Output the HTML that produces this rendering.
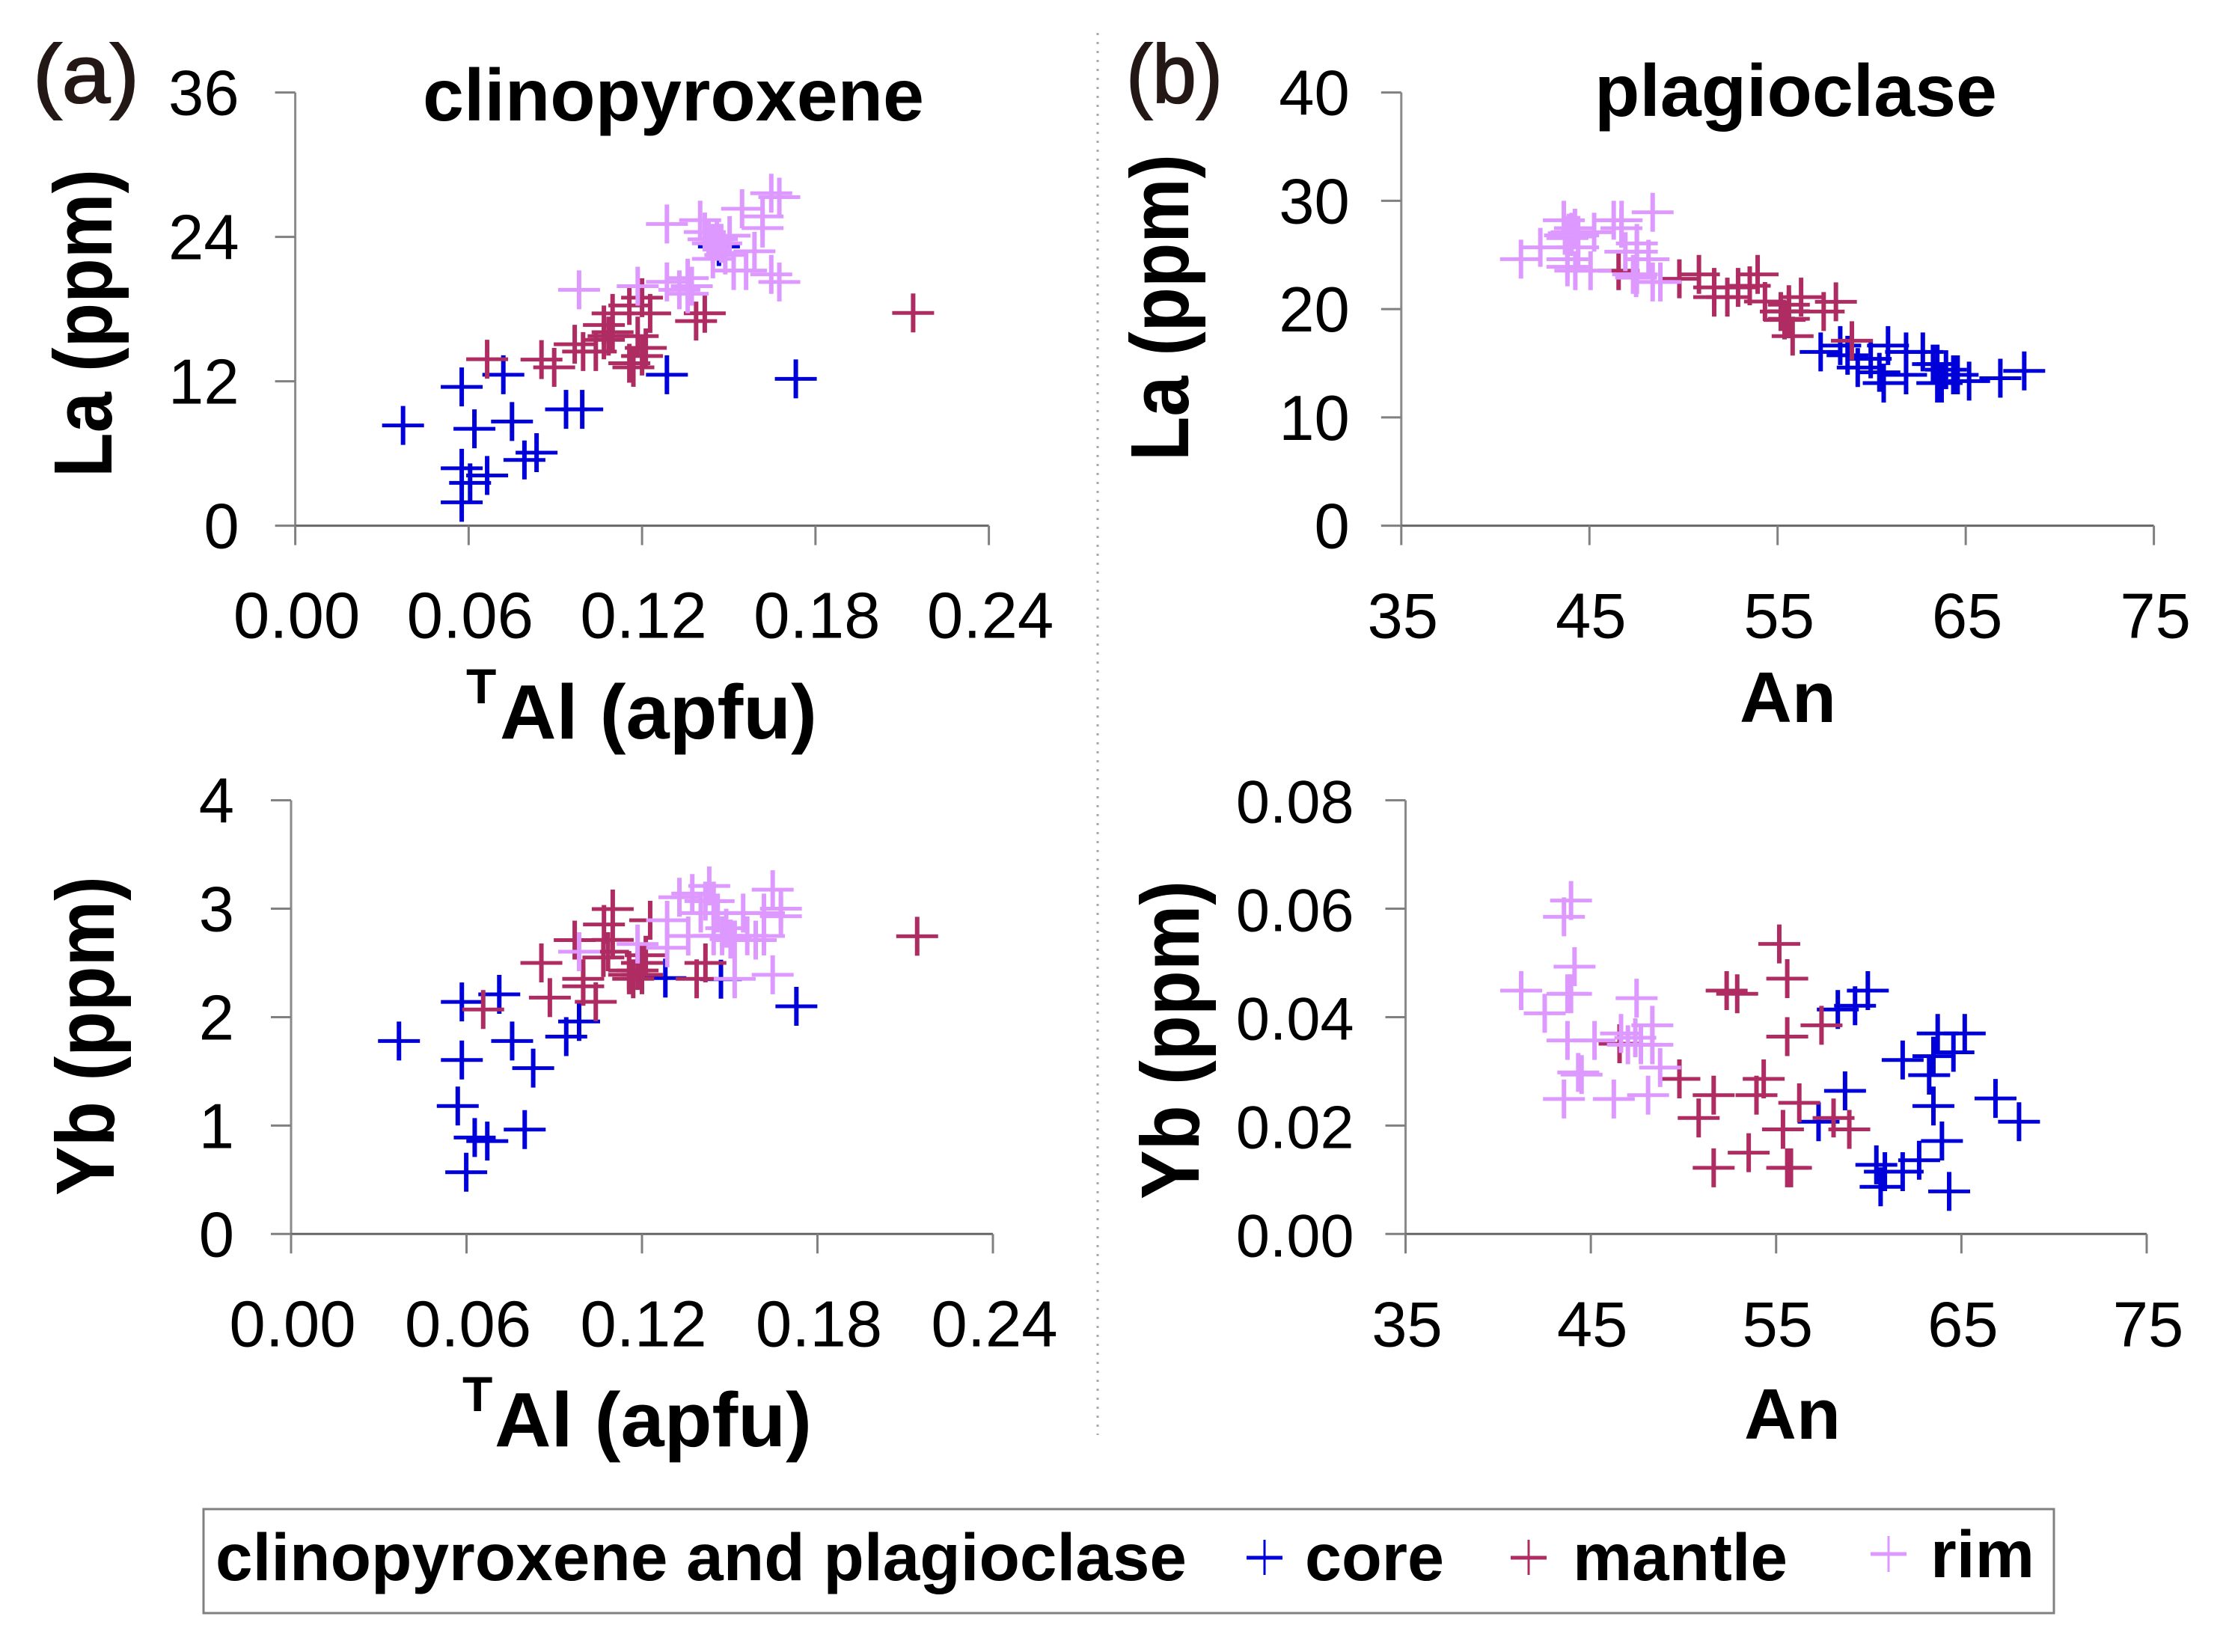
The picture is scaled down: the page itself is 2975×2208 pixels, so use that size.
<!DOCTYPE html>
<html lang="en">
<head>
<meta charset="utf-8">
<title>La and Yb in clinopyroxene and plagioclase</title>
<style>
html,body{margin:0;padding:0;background:#fff;}
svg{display:block;}
text{font-family:"Liberation Sans",sans-serif;fill:#000;}
.b{font-weight:bold;}
</style>
</head>
<body>
<svg id="figure" xmlns="http://www.w3.org/2000/svg" width="2975" height="2208" viewBox="0 0 2975 2208">
  <rect x="0" y="0" width="2975" height="2208" fill="#fff"/>
  <line x1="1467" y1="44" x2="1467" y2="1918" stroke="#a8a8a8" stroke-width="3" stroke-dasharray="3 9"/>

  <text x="44" y="137" font-size="110" textLength="142" lengthAdjust="spacingAndGlyphs" style="fill:#231815;stroke:#231815;stroke-width:2">(a)</text>
  <text x="1505" y="137" font-size="110" textLength="129" lengthAdjust="spacingAndGlyphs" style="fill:#231815;stroke:#231815;stroke-width:2">(b)</text>
  <text class="b" x="565" y="161" font-size="98" textLength="670" lengthAdjust="spacingAndGlyphs">clinopyroxene</text>
  <text class="b" x="2131" y="155" font-size="98" textLength="538" lengthAdjust="spacingAndGlyphs">plagioclase</text>

  <text class="b" transform="translate(149 638) rotate(-90)" font-size="110" textLength="412" lengthAdjust="spacingAndGlyphs">La (ppm)</text>
  <text class="b" transform="translate(1588 616) rotate(-90)" font-size="110" textLength="410" lengthAdjust="spacingAndGlyphs">La (ppm)</text>
  <text class="b" transform="translate(152 1598) rotate(-90)" font-size="110" textLength="427" lengthAdjust="spacingAndGlyphs">Yb (ppm)</text>
  <text class="b" transform="translate(1602 1603) rotate(-90)" font-size="110" textLength="426" lengthAdjust="spacingAndGlyphs">Yb (ppm)</text>

  <text class="b" x="623" y="940" font-size="66">T</text>
  <text class="b" x="668" y="987" font-size="103" textLength="424" lengthAdjust="spacingAndGlyphs">Al (apfu)</text>
  <text class="b" x="618" y="1886" font-size="66">T</text>
  <text class="b" x="661" y="1933" font-size="103" textLength="424" lengthAdjust="spacingAndGlyphs">Al (apfu)</text>
  <text class="b" x="2325" y="965" font-size="96" textLength="129" lengthAdjust="spacingAndGlyphs">An</text>
  <text class="b" x="2331" y="1923" font-size="96" textLength="129" lengthAdjust="spacingAndGlyphs">An</text>

  <g>
    <rect x="272" y="2017" width="2473" height="139" fill="#fff" stroke="#808080" stroke-width="3"/>
    <text class="b" x="288" y="2112" font-size="89" textLength="1298" lengthAdjust="spacingAndGlyphs">clinopyroxene and plagioclase</text>
    <g stroke="#0000d8">
      <line x1="1666" y1="2082" x2="1714" y2="2082" stroke-width="5"/><line x1="1690" y1="2058" x2="1690" y2="2105" stroke-width="3"/>
    </g>
    <text class="b" x="1744" y="2112" font-size="89" textLength="186" lengthAdjust="spacingAndGlyphs">core</text>
    <g stroke="#ae2c62">
      <line x1="2019" y1="2082" x2="2067" y2="2082" stroke-width="5"/><line x1="2043" y1="2058" x2="2043" y2="2105" stroke-width="3"/>
    </g>
    <text class="b" x="2102" y="2112" font-size="89" textLength="287" lengthAdjust="spacingAndGlyphs">mantle</text>
    <g stroke="#dd99ff">
      <line x1="2500" y1="2077" x2="2548" y2="2077" stroke-width="5"/><line x1="2524" y1="2053" x2="2524" y2="2101" stroke-width="3"/>
    </g>
    <text class="b" x="2580" y="2108" font-size="89" textLength="139" lengthAdjust="spacingAndGlyphs">rim</text>
  </g>
</svg>
<script>
// Tick values and labels
const tAlTicks = [0, 0.06, 0.12, 0.18, 0.24];
const tAlTickLabels = ["0.00", "0.06", "0.12", "0.18", "0.24"];
const anTicks = [35, 45, 55, 65, 75];
const anTickLabels = ["35", "45", "55", "65", "75"];
const cpxLaTicks = [0, 12, 24, 36];
const cpxLaTickLabels = ["0", "12", "24", "36"];
const plagLaTicks = [0, 10, 20, 30, 40];
const plagLaTickLabels = ["0", "10", "20", "30", "40"];
const cpxYbTicks = [0, 1, 2, 3, 4];
const cpxYbTickLabels = ["0", "1", "2", "3", "4"];
const plagYbTicks = [0, 0.02, 0.04, 0.06, 0.08];
const plagYbTickLabels = ["0.00", "0.02", "0.04", "0.06", "0.08"];

// Panel A: clinopyroxene La vs TAl
const aCoreX = [.0373,.0576,.072,.062,.075,.0937,.0993,.0835,.0793,.0576,.0664,.0605,.0576,.1286,.1732,.1466];
const aCoreY = [8.33,11.53,12.54,8.05,8.66,9.67,9.67,6.07,5.46,4.77,4.17,3.56,1.94,12.54,12.2,23.2];
const aMantleX = [.0664,.0852,.0896,.0967,.0996,.104,.1098,.1068,.1098,.1084,.1068,.1156,.12,.1228,.1185,.1213,.12,.1156,.117,.1387,.1417,.2138];
const aMantleY = [13.83,13.8,13.16,15.08,14.47,14.47,17.64,16.68,16.08,15.75,15.44,18.3,18.95,17.64,15.75,14.77,14.1,13.5,13.16,17.0,17.65,17.68];
const aRimX = [.0982,.1185,.1286,.1286,.1329,.1358,.1358,.1372,.1401,.1417,.143,.1445,.1459,.1474,.1503,.1445,.1488,.1589,.1517,.156,.1546,.1617,.1617,.1647,.1675,.1647,.1675];
const aRimY = [19.6,19.9,25.07,20.26,19.6,20.57,19.27,19.9,25.39,24.4,23.8,23.46,23.8,23.46,24.1,22.17,22.5,22.8,21.2,21.2,26.34,24.73,25.7,27.63,27.3,20.88,20.25];

// Panel B: plagioclase La vs An
const bCoreX = [68.11,66.84,65.18,64.57,63.72,63.49,63.26,63.49,63.95,64.34,62.72,61.83,61.83,60.87,60.64,60.41,59.95,59.26,58.33,58.72,57.29];
const bCoreY = [14.29,13.62,13.35,13.93,13.17,14.92,14.92,13.17,14.4,13.93,16.04,16.04,13.93,16.63,13.17,14.16,15.4,14.6,16.63,15.73,16.04];
const bMantleX = [55.17,55.6,55.6,57.45,52.33,52.9,49.78,51.63,53.94,54.33,56.25,58.1,58.95,55.37,50.82,53.52,51.63,55.6,55.8,46.55];
const bMantleY = [19.77,20.4,19.1,19.77,21.1,22.0,22.8,22.0,23.2,20.7,21.1,20.67,17.08,19.0,23.2,22.15,21.1,19.8,17.5,23.55];
const bRimX = [41.36,42.39,43.64,44.05,44.23,43.83,43.7,43.9,44.05,44.4,45.25,43.83,44.25,45.06,43.83,44.4,46.29,46.71,48.36,46.7,46.91,47.52,47.52,48.14,47.32,47.52,48.36,48.77,47.48];
const bRimY = [24.61,25.7,28.2,27.1,27.47,26.55,26.8,27.0,26.7,26.8,27.1,23.9,23.55,23.55,24.6,25.7,28.2,28.2,28.94,27.47,25.3,26.06,25.3,24.6,23.2,23.2,22.5,22.5,22.9];

// Panel C: clinopyroxene Yb vs TAl
const cCoreX = [.0369,.0584,.0712,.0756,.0584,.0828,.0941,.0985,.057,.0628,.0671,.0799,.0599,.128,.1728,.147];
const cCoreY = [1.78,2.14,2.21,1.78,1.605,1.53,1.82,1.96,1.18,.89,.857,.963,.57,2.36,2.10,2.35];
const cMantleX = [.0657,.0856,.0885,.097,.0999,.0999,.1042,.11,.107,.11,.1084,.1068,.1156,.12,.1228,.1185,.1213,.12,.1156,.117,.1387,.1417,.2141];
const cMantleY = [2.07,2.50,2.18,2.71,2.353,2.284,2.141,2.997,2.854,2.712,2.603,2.55,2.43,2.39,2.893,2.43,2.571,2.50,2.39,2.353,2.353,2.50,2.746];
const cRimX = [.0985,.1185,.1286,.1286,.1328,.1358,.1372,.1401,.1417,.143,.1445,.1459,.1474,.1445,.1488,.1503,.1517,.1517,.1546,.156,.1589,.1617,.1617,.1647,.1675,.1675,.1647];
const cRimY = [2.603,2.674,2.893,2.64,3.105,2.748,3.14,2.96,3.07,3.21,3.07,2.96,2.75,2.75,2.82,2.72,2.71,2.353,2.96,2.75,2.71,2.748,2.96,3.175,3.0,2.93,2.39];

// Panel D: plagioclase Yb vs An
const dCoreX = [68.11,66.84,65.18,64.57,63.72,63.49,63.26,63.49,63.95,64.34,62.72,61.83,61.83,60.87,60.64,60.41,59.95,59.26,58.33,58.72,57.29];
const dCoreY = [.0207,.025,.037,.0335,.037,.0328,.0293,.0236,.01715,.00786,.0136,.0321,.0115,.0115,.0087,.01276,.0449,.0421,.0414,.0264,.0207];
const dMantleX = [55.17,55.6,55.6,57.45,52.33,52.9,49.78,51.63,53.94,54.33,56.25,58.1,58.95,55.37,50.82,53.52,51.63,55.6,55.8,46.55];
const dMantleY = [.0535,.0471,.0364,.0385,.0449,.0443,.0286,.0256,.0256,.0286,.0242,.0214,.0193,.0193,.0214,.015,.0122,.0122,.0122,.0351];
const dRimX = [43.93,43.55,44.12,43.93,43.74,41.24,42.51,43.74,45.2,47.47,48.32,46.63,47.4,47.0,47.7,48.32,48.74,44.32,44.5,43.55,46.24,48.09];
const dRimY = [.0615,.0585,.0493,.0443,.0443,.0449,.0407,.0357,.0357,.0435,.0385,.037,.0362,.0349,.0349,.0349,.0307,.0298,.0294,.0249,.0249,.0256];

const SVG_NS = "http://www.w3.org/2000/svg";
const figure = document.getElementById("figure");

function makeLine(parent, x1, y1, x2, y2, color, width) {
  const el = document.createElementNS(SVG_NS, "line");
  el.setAttribute("x1", x1);
  el.setAttribute("y1", y1);
  el.setAttribute("x2", x2);
  el.setAttribute("y2", y2);
  el.setAttribute("stroke", color);
  el.setAttribute("stroke-width", width);
  parent.appendChild(el);
  return el;
}

function makeLabel(parent, str, x, y, anchor, size) {
  const el = document.createElementNS(SVG_NS, "text");
  el.setAttribute("x", x);
  el.setAttribute("y", y);
  el.setAttribute("font-size", size);
  el.setAttribute("text-anchor", anchor);
  el.textContent = str;
  parent.appendChild(el);
  return el;
}

function drawSeries(parent, name, xs, ys, color, sx, sy) {
  const g = document.createElementNS(SVG_NS, "g");
  
  
  xs.forEach(function (xv, i) {
    const px = sx(xv);
    const py = sy(ys[i]);
    const mark = document.createElementNS(SVG_NS, "g");
    
    
    makeLine(mark, px - 28, py, px + 28, py, color, 5);
    makeLine(mark, px, py - 26, px, py + 26, color, 6);
    g.appendChild(mark);
  });
  parent.appendChild(g);
}

function drawPanel(name, left, right, top, bottom, yGap, xSize, ySize, xDomain, yDomain, xTicks, xLabels, yTicks, yLabels, series) {
  const sx = function (v) { return left + (v - xDomain[0]) / (xDomain[1] - xDomain[0]) * (right - left); };
  const sy = function (v) { return bottom - (v - yDomain[0]) / (yDomain[1] - yDomain[0]) * (bottom - top); };
  const g = document.createElementNS(SVG_NS, "g");
  
  
  figure.appendChild(g);

  const yAxis = makeLine(g, left, top, left, bottom, "#8a8a8a", 3);
  
  
  const xAxis = makeLine(g, left, bottom, right, bottom, "#666666", 3);
  
  

  xTicks.forEach(function (v, i) {
    const tick = makeLine(g, sx(v), bottom, sx(v), bottom + 26, "#808080", 3);
    
    
    const label = makeLabel(g, xLabels[i], sx(v) + 2, bottom + 150, "middle", xSize);
    
    
  });
  yTicks.forEach(function (v, i) {
    const tick = makeLine(g, left - 27, sy(v), left, sy(v), "#808080", 3);
    
    
    const label = makeLabel(g, yLabels[i], left - yGap, sy(v) + 30, "end", ySize);
    
    
  });

  drawSeries(g, name + '-core', series.coreX, series.coreY, "#0000d8", sx, sy);
  drawSeries(g, name + '-mantle', series.mantleX, series.mantleY, "#ae2c62", sx, sy);
  drawSeries(g, name + '-rim', series.rimX, series.rimY, "#dd99ff", sx, sy);
}

drawPanel("la-cpx", 394.6, 1321.6, 123.6, 702.6, 75, 87, 85, [0, 0.24], [0, 36], tAlTicks, tAlTickLabels, cpxLaTicks, cpxLaTickLabels,
  { coreX: aCoreX, coreY: aCoreY, mantleX: aMantleX, mantleY: aMantleY, rimX: aRimX, rimY: aRimY });
drawPanel("la-plag", 1872.8, 2878.6, 123.6, 702.6, 69, 85, 85, [35, 75], [0, 40], anTicks, anTickLabels, plagLaTicks, plagLaTickLabels,
  { coreX: bCoreX, coreY: bCoreY, mantleX: bMantleX, mantleY: bMantleY, rimX: bRimX, rimY: bRimY });
drawPanel("yb-cpx", 389, 1327, 1069.6, 1649.3, 76, 87, 85, [0, 0.24], [0, 4], tAlTicks, tAlTickLabels, cpxYbTicks, cpxYbTickLabels,
  { coreX: cCoreX, coreY: cCoreY, mantleX: cMantleX, mantleY: cMantleY, rimX: cRimX, rimY: cRimY });
drawPanel("yb-plag", 1878.5, 2869, 1069.6, 1649.3, 69, 85, 81, [35, 75], [0, 0.08], anTicks, anTickLabels, plagYbTicks, plagYbTickLabels,
  { coreX: dCoreX, coreY: dCoreY, mantleX: dMantleX, mantleY: dMantleY, rimX: dRimX, rimY: dRimY });
</script>
</body>
</html>
